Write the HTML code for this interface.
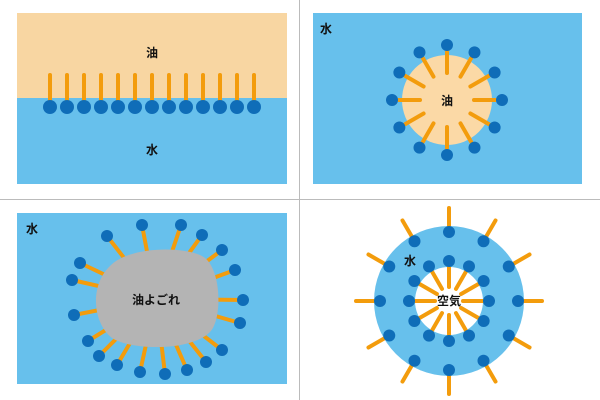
<!DOCTYPE html>
<html><head><meta charset="utf-8"><style>
html,body{margin:0;padding:0;background:#fff}
svg{display:block}
text{font-family:"Liberation Sans","Noto Sans CJK JP",sans-serif;font-weight:bold;font-size:12px;fill:#111}
</style></head><body>
<svg id="s" width="600" height="400" xmlns="http://www.w3.org/2000/svg">
<line x1="299.5" y1="0" x2="299.5" y2="400" stroke="#bbb" stroke-width="1"/>
<line x1="0" y1="199.5" x2="600" y2="199.5" stroke="#bbb" stroke-width="1"/>
<rect x="17" y="13" width="270" height="85" fill="#f8d6a2"/>
<rect x="17" y="98" width="270" height="86" fill="#67c0ec"/>
<g id="p1"></g>
<text x="152" y="57" text-anchor="middle">油</text>
<text x="152" y="154" text-anchor="middle">水</text>
<rect x="313" y="13" width="269" height="171" fill="#67c0ec"/>
<circle cx="447" cy="100" r="45" fill="#fbd9a6"/>
<g id="p2"></g>
<text x="447" y="105" text-anchor="middle">油</text>
<text x="320" y="33">水</text>
<rect x="17" y="213" width="270" height="171" fill="#67c0ec"/>
<g id="p3s"></g>
<path d="M110,266 C130,245 190,246 205,258 C222,272 222,320 210,332 C190,352 130,350 112,338 C92,322 90,285 110,266 Z" fill="#b4b4b4"/>
<g id="p3d"></g>
<text x="156" y="304" text-anchor="middle">油よごれ</text>
<text x="26" y="233">水</text>
<circle cx="449" cy="301" r="75" fill="#67c0ec"/>
<circle cx="449" cy="301" r="34" fill="#fff"/>
<g id="p4"></g>
<text x="449" y="305" text-anchor="middle">空気</text>
<text x="404" y="265">水</text>
</svg>
<script>
var NS="http://www.w3.org/2000/svg";
function L(g,x1,y1,x2,y2){var e=document.createElementNS(NS,"line");e.setAttribute("x1",x1);e.setAttribute("y1",y1);e.setAttribute("x2",x2);e.setAttribute("y2",y2);e.setAttribute("stroke","#f39c0c");e.setAttribute("stroke-width","4");e.setAttribute("stroke-linecap","round");document.getElementById(g).appendChild(e);}
function C(g,x,y,r){var e=document.createElementNS(NS,"circle");e.setAttribute("cx",x);e.setAttribute("cy",y);e.setAttribute("r",r);e.setAttribute("fill","#0f6db8");document.getElementById(g).appendChild(e);}
for(var i=0;i<13;i++){var x=50+i*17;L("p1",x,75,x,101);C("p1",x,107,7);}
for(var i=0;i<12;i++){var a=i*Math.PI/6,c=Math.cos(a),s=Math.sin(a);L("p2",447+27*c,100+27*s,447+48*c,100+48*s);C("p2",447+55*c,100+55*s,6);}
var d=[[142,225],[107,236],[80,263],[72,280],[74,315],[88,341],[99,356],[117,365],[140,372],[165,374],[187,370],[206,362],[222,350],[240,323],[243,300],[235,270],[222,250],[202,235],[181,225]];
d.forEach(function(p){var cx=156,cy=299,dx=cx-p[0],dy=cy-p[1],n=Math.hypot(dx,dy);L("p3s",p[0],p[1],p[0]+dx/n*40,p[1]+dy/n*40);C("p3d",p[0],p[1],6);});
for(var i=0;i<12;i++){var a=i*Math.PI/6-Math.PI/2,c=Math.cos(a),s=Math.sin(a);L("p4",449+75*c,301+75*s,449+93*c,301+93*s);C("p4",449+69*c,301+69*s,6);
L("p4",449+34*c,301+34*s,449+14*c,301+14*s);C("p4",449+40*c,301+40*s,6);}
</script>
</body></html>
